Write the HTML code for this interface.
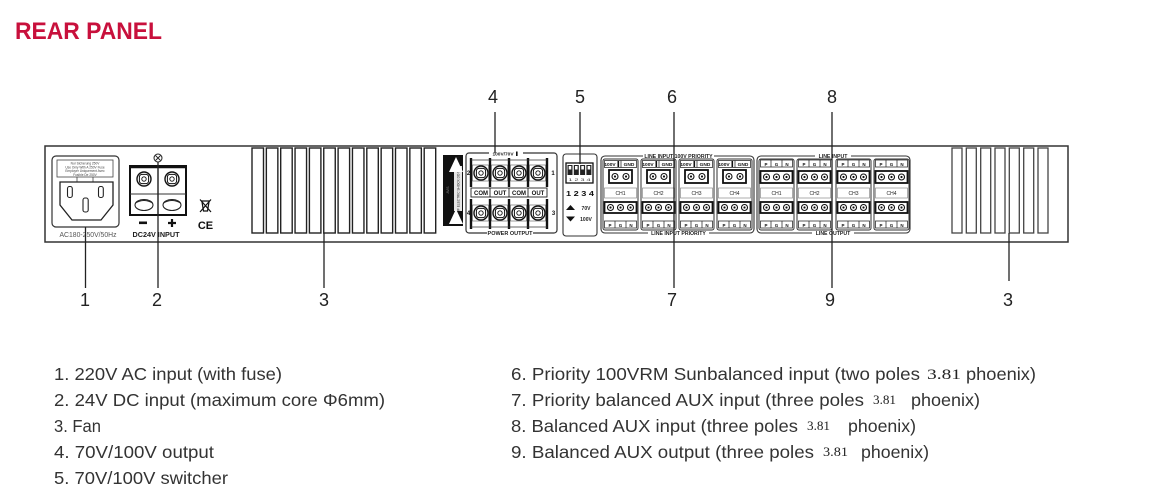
<!DOCTYPE html>
<html><head><meta charset="utf-8">
<style>
html,body{margin:0;padding:0;background:#fff;}
svg{display:block;}
</style></head><body>
<svg width="1163" height="503" viewBox="0 0 1163 503" xmlns="http://www.w3.org/2000/svg" font-family="'Liberation Sans', Arial, sans-serif">
<defs>
  <g id="scr">
    <circle r="7" fill="#fff" stroke="#111" stroke-width="1.4"/>
    <rect x="-4.6" y="-4.6" width="9.2" height="9.2" rx="2.6" fill="none" stroke="#111" stroke-width="1"/>
    <circle r="2.2" fill="none" stroke="#111" stroke-width="0.9"/>
  </g>
  <g id="pin">
    <circle r="3" fill="#fff" stroke="#111" stroke-width="1.1"/>
    <circle r="1.1" fill="#111"/>
  </g>
  <g id="chA">
    <rect x="0" y="159" width="35" height="71" rx="2" fill="none" stroke="#333" stroke-width="1"/>
    <rect x="1.5" y="160.5" width="32" height="7" fill="none" stroke="#333" stroke-width="0.8"/>
    <line x1="18" y1="160.5" x2="18" y2="167.5" stroke="#333" stroke-width="0.8"/>
    <rect x="14.5" y="161" width="1.6" height="6" fill="#111"/>
    <rect x="6" y="170" width="23" height="13" fill="#fff" stroke="#111" stroke-width="1.8"/>
    <use href="#pin" x="12" y="176.5"/>
    <use href="#pin" x="23" y="176.5"/>
    <rect x="1.5" y="188" width="32" height="10" fill="none" stroke="#777" stroke-width="0.6"/>
    <rect x="1.5" y="202" width="32" height="11" fill="#fff" stroke="#111" stroke-width="1.8"/>
    <use href="#pin" x="7.5" y="207.5"/>
    <use href="#pin" x="17.5" y="207.5"/>
    <use href="#pin" x="27.5" y="207.5"/>
    <rect x="1.5" y="221" width="32" height="7" fill="none" stroke="#333" stroke-width="0.8"/>
    <line x1="12" y1="221" x2="12" y2="228" stroke="#333" stroke-width="0.8"/>
    <line x1="23" y1="221" x2="23" y2="228" stroke="#333" stroke-width="0.8"/>
  </g>
  <g id="chB">
    <rect x="0" y="159" width="35" height="71" rx="2" fill="none" stroke="#333" stroke-width="1"/>
    <rect x="1.5" y="160" width="32" height="7" fill="none" stroke="#333" stroke-width="0.8"/>
    <line x1="12" y1="160" x2="12" y2="167" stroke="#333" stroke-width="0.8"/>
    <line x1="23" y1="160" x2="23" y2="167" stroke="#333" stroke-width="0.8"/>
    <rect x="1.5" y="171" width="32" height="12" fill="#fff" stroke="#111" stroke-width="1.8"/>
    <use href="#pin" x="7.5" y="177"/>
    <use href="#pin" x="17.5" y="177"/>
    <use href="#pin" x="27.5" y="177"/>
    <rect x="1.5" y="188" width="32" height="10" fill="none" stroke="#777" stroke-width="0.6"/>
    <rect x="1.5" y="202" width="32" height="11" fill="#fff" stroke="#111" stroke-width="1.8"/>
    <use href="#pin" x="7.5" y="207.5"/>
    <use href="#pin" x="17.5" y="207.5"/>
    <use href="#pin" x="27.5" y="207.5"/>
    <rect x="1.5" y="221" width="32" height="7" fill="none" stroke="#333" stroke-width="0.8"/>
    <line x1="12" y1="221" x2="12" y2="228" stroke="#333" stroke-width="0.8"/>
    <line x1="23" y1="221" x2="23" y2="228" stroke="#333" stroke-width="0.8"/>
  </g>
</defs>

<!-- Title -->
<text x="15" y="39" font-size="24" font-weight="bold" fill="#c8103c" textLength="147" lengthAdjust="spacingAndGlyphs">REAR PANEL</text>

<!-- Panel -->
<rect x="45" y="146" width="1023" height="96" fill="none" stroke="#333" stroke-width="1.5"/>

<!-- AC inlet -->
<rect x="52" y="156" width="67" height="71" rx="4" fill="none" stroke="#333" stroke-width="1.2"/>
<rect x="57" y="160" width="56" height="17" fill="none" stroke="#444" stroke-width="0.8"/>
<g font-size="3.2" fill="#444" text-anchor="middle">
  <text x="85" y="164.5">Nur Sicherung 250V</text>
  <text x="85" y="168.3">Use Only With A 250V Fuse</text>
  <text x="85" y="172.1">Employer Uniquement Avec</text>
  <text x="85" y="175.9">Fusible De 250V</text>
</g>
<path d="M77 177 V182 M93 177 V182" stroke="#444" stroke-width="0.8"/>
<path d="M60 182 H113 V205 L101 220 H72 L60 205 Z" fill="none" stroke="#222" stroke-width="1.3"/>
<rect x="67.5" y="186.5" width="4.8" height="11" rx="2" fill="none" stroke="#222" stroke-width="1.1"/>
<rect x="98.5" y="186.5" width="4.8" height="11" rx="2" fill="none" stroke="#222" stroke-width="1.1"/>
<rect x="83" y="198" width="5.2" height="14" rx="2" fill="none" stroke="#222" stroke-width="1.1"/>
<text x="88" y="237" font-size="7" fill="#555" text-anchor="middle" textLength="57" lengthAdjust="spacingAndGlyphs">AC180-250V/50Hz</text>

<!-- DC terminal -->
<g transform="translate(158,158)">
  <circle r="4" fill="#fff" stroke="#222" stroke-width="1"/>
  <path d="M-2.5 -2.5 L2.5 2.5 M2.5 -2.5 L-2.5 2.5" stroke="#222" stroke-width="0.9"/>
</g>
<rect x="130" y="166" width="56" height="49" fill="#fff" stroke="#111" stroke-width="2"/>
<line x1="130" y1="167" x2="186" y2="167" stroke="#111" stroke-width="2.5"/>
<line x1="130" y1="194" x2="186" y2="194" stroke="#333" stroke-width="1"/>
<line x1="158" y1="166" x2="158" y2="215" stroke="#222" stroke-width="1.2"/>
<use href="#scr" x="144" y="179"/>
<use href="#scr" x="172" y="179"/>
<ellipse cx="144" cy="205" rx="9" ry="5.5" fill="none" stroke="#222" stroke-width="1.1"/>
<ellipse cx="172" cy="205" rx="9" ry="5.5" fill="none" stroke="#222" stroke-width="1.1"/>
<path d="M135.5 203 Q144 198 152.5 203 M163.5 203 Q172 198 180.5 203" fill="none" stroke="#222" stroke-width="0.9"/>
<rect x="139" y="221.5" width="8" height="2.6" fill="#111"/>
<path d="M172 219 V227 M168 223 H176" stroke="#111" stroke-width="2.2"/>
<text x="156" y="237" font-size="7" font-weight="bold" fill="#222" text-anchor="middle" textLength="47" lengthAdjust="spacingAndGlyphs">DC24V INPUT</text>

<!-- WEEE + CE -->
<g stroke="#111" stroke-width="1.2" fill="none">
  <path d="M201 201 H210 M202 202 L203.5 211 H207.5 L209 202"/>
  <path d="M200 199.5 L211 212 M211 199.5 L200 212"/>
</g>
<text x="205.5" y="229" font-size="11" font-weight="bold" fill="#111" text-anchor="middle">CE</text>

<!-- Left fan slots -->
<g fill="none" stroke="#222" stroke-width="1.4">
  <rect x="252" y="148" width="11.5" height="85"/>
  <rect x="266.35" y="148" width="11.5" height="85"/>
  <rect x="280.7" y="148" width="11.5" height="85"/>
  <rect x="295.05" y="148" width="11.5" height="85"/>
  <rect x="309.4" y="148" width="11.5" height="85"/>
  <rect x="323.75" y="148" width="11.5" height="85"/>
  <rect x="338.1" y="148" width="11.5" height="85"/>
  <rect x="352.45" y="148" width="11.5" height="85"/>
  <rect x="366.8" y="148" width="11.5" height="85"/>
  <rect x="381.15" y="148" width="11.5" height="85"/>
  <rect x="395.5" y="148" width="11.5" height="85"/>
  <rect x="409.85" y="148" width="11.5" height="85"/>
  <rect x="424.2" y="148" width="11.5" height="85"/>
</g>

<!-- Right fan slots -->
<g fill="none" stroke="#444" stroke-width="1.3">
  <rect x="952" y="148" width="10" height="85"/>
  <rect x="966.3" y="148" width="10" height="85"/>
  <rect x="980.7" y="148" width="10" height="85"/>
  <rect x="995" y="148" width="10" height="85"/>
  <rect x="1009.3" y="148" width="10" height="85"/>
  <rect x="1023.7" y="148" width="10" height="85"/>
  <rect x="1038" y="148" width="10" height="85"/>
</g>

<!-- Warning strip -->
<rect x="443" y="155" width="20" height="71" fill="#111"/>
<rect x="454" y="166" width="8" height="45" fill="#e6e6e6"/>
<text transform="translate(459.5,188.5) rotate(-90)" font-size="3.2" fill="#222" text-anchor="middle">RISK OF ELECTRIC SHOCK DO NOT OPEN</text>
<polygon points="456,157 449,172 463,172" fill="#fff"/>
<polygon points="456,209 449,224 463,224" fill="#fff"/>
<text transform="translate(449,190) rotate(-90)" font-size="3.2" fill="#888" text-anchor="middle">AVIS</text>

<!-- Power output terminal block -->
<rect x="466" y="153" width="91" height="80" rx="3" fill="none" stroke="#333" stroke-width="1.2"/>
<rect x="489" y="151" width="34" height="5" fill="#fff"/>
<text x="503" y="155.5" font-size="4.8" font-weight="bold" fill="#222" text-anchor="middle">100V/70V</text>
<rect x="516" y="151.5" width="1.6" height="4.5" fill="#111"/>
<rect x="487" y="230" width="46" height="6" fill="#fff"/>
<text x="510" y="235" font-size="5.5" font-weight="bold" fill="#222" text-anchor="middle">POWER OUTPUT</text>
<g stroke="#111" stroke-width="2.4">
  <line x1="471" y1="158" x2="471" y2="187"/><line x1="490" y1="158" x2="490" y2="187"/>
  <line x1="509" y1="158" x2="509" y2="187"/><line x1="528" y1="158" x2="528" y2="187"/>
  <line x1="547" y1="158" x2="547" y2="187"/>
  <line x1="471" y1="199" x2="471" y2="229"/><line x1="490" y1="199" x2="490" y2="229"/>
  <line x1="509" y1="199" x2="509" y2="229"/><line x1="528" y1="199" x2="528" y2="229"/>
  <line x1="547" y1="199" x2="547" y2="229"/>
</g>
<line x1="471" y1="160" x2="547" y2="160" stroke="#333" stroke-width="0.8"/>
<line x1="471" y1="227" x2="547" y2="227" stroke="#333" stroke-width="0.8"/>
<g fill="none" stroke="#555" stroke-width="0.6">
  <rect x="472.5" y="165" width="16" height="16"/><rect x="491.5" y="165" width="16" height="16"/>
  <rect x="510.5" y="165" width="16" height="16"/><rect x="529.5" y="165" width="16" height="16"/>
  <rect x="472.5" y="205" width="16" height="16"/><rect x="491.5" y="205" width="16" height="16"/>
  <rect x="510.5" y="205" width="16" height="16"/><rect x="529.5" y="205" width="16" height="16"/>
</g>
<use href="#scr" x="481" y="173"/><use href="#scr" x="500" y="173"/>
<use href="#scr" x="519" y="173"/><use href="#scr" x="538" y="173"/>
<use href="#scr" x="481" y="213"/><use href="#scr" x="500" y="213"/>
<use href="#scr" x="519" y="213"/><use href="#scr" x="538" y="213"/>
<rect x="471" y="188" width="76" height="9" fill="#fff" stroke="#222" stroke-width="0.9"/>
<g stroke="#222" stroke-width="0.9">
  <line x1="490" y1="188" x2="490" y2="197"/><line x1="509" y1="188" x2="509" y2="197"/>
  <line x1="528" y1="188" x2="528" y2="197"/>
</g>
<g font-size="6" font-weight="bold" fill="#111" text-anchor="middle">
  <text x="481" y="195">COM</text><text x="500" y="195">OUT</text>
  <text x="519" y="195">COM</text><text x="538" y="195">OUT</text>
</g>
<g font-size="6" font-weight="bold" fill="#111" text-anchor="middle">
  <text x="468.5" y="175">2</text><text x="553" y="175">1</text>
  <text x="468.5" y="215">4</text><text x="553.5" y="215">3</text>
</g>

<!-- DIP switch -->
<rect x="563" y="154" width="34" height="82" rx="3" fill="none" stroke="#333" stroke-width="1.1"/>
<rect x="566" y="163" width="27" height="20" fill="#fff" stroke="#111" stroke-width="1.3"/>
<g fill="#222">
  <rect x="567.5" y="165" width="5" height="10"/><rect x="573.8" y="165" width="5" height="10"/>
  <rect x="580.1" y="165" width="5" height="10"/><rect x="586.4" y="165" width="5" height="10"/>
</g>
<g fill="#fff">
  <rect x="568.7" y="166" width="2.6" height="3.5"/><rect x="575" y="166" width="2.6" height="3.5"/>
  <rect x="581.3" y="166" width="2.6" height="3.5"/><rect x="587.6" y="166" width="2.6" height="3.5"/>
</g>
<text x="579.5" y="181" font-size="4" fill="#333" text-anchor="middle" textLength="22" lengthAdjust="spacingAndGlyphs">1 2 3 4</text>
<text x="580" y="196" font-size="7.5" font-weight="bold" fill="#111" text-anchor="middle" textLength="28" lengthAdjust="spacingAndGlyphs">1 2 3 4</text>
<polygon points="566,210 575,210 570.5,205" fill="#111"/>
<polygon points="566,216.5 575,216.5 570.5,221.5" fill="#111"/>
<text x="586" y="210" font-size="5" font-weight="bold" fill="#222" text-anchor="middle">70V</text>
<text x="586" y="221" font-size="5" font-weight="bold" fill="#222" text-anchor="middle">100V</text>

<!-- Line input 100V priority group -->
<rect x="601" y="156" width="153" height="77" rx="4" fill="none" stroke="#333" stroke-width="1.1"/>
<rect x="643" y="153" width="71" height="6" fill="#fff"/>
<text x="678.5" y="158" font-size="5.2" font-weight="bold" fill="#222" text-anchor="middle">LINE INPUT 100V PRIORITY</text>
<rect x="648" y="230" width="61" height="6" fill="#fff"/>
<text x="678.5" y="235" font-size="5.2" font-weight="bold" fill="#222" text-anchor="middle">LINE INPUT PRIORITY</text>
<use href="#chA" x="603" y="0"/>
<use href="#chA" x="641" y="0"/>
<use href="#chA" x="679" y="0"/>
<use href="#chA" x="717" y="0"/>
<g font-size="4.8" font-weight="bold" fill="#111" text-anchor="middle">
  <text x="610" y="166">100V</text><text x="629" y="166">GND</text>
  <text x="648" y="166">100V</text><text x="667" y="166">GND</text>
  <text x="686" y="166">100V</text><text x="705" y="166">GND</text>
  <text x="724" y="166">100V</text><text x="743" y="166">GND</text>
</g>
<g font-size="5" fill="#222" text-anchor="middle">
  <text x="620.5" y="195">CH1</text><text x="658.5" y="195">CH2</text>
  <text x="696.5" y="195">CH3</text><text x="734.5" y="195">CH4</text>
</g>
<g font-size="4.5" font-weight="bold" fill="#111" text-anchor="middle">
  <text x="610" y="227">P</text><text x="620.5" y="227">G</text><text x="631" y="227">N</text>
  <text x="648" y="227">P</text><text x="658.5" y="227">G</text><text x="669" y="227">N</text>
  <text x="686" y="227">P</text><text x="696.5" y="227">G</text><text x="707" y="227">N</text>
  <text x="724" y="227">P</text><text x="734.5" y="227">G</text><text x="745" y="227">N</text>
</g>

<!-- Line input / output group -->
<rect x="757" y="156" width="153" height="77" rx="4" fill="none" stroke="#333" stroke-width="1.1"/>
<rect x="815" y="153" width="36" height="6" fill="#fff"/>
<text x="833" y="158" font-size="5.2" font-weight="bold" fill="#222" text-anchor="middle">LINE INPUT</text>
<rect x="812" y="230" width="42" height="6" fill="#fff"/>
<text x="833" y="235" font-size="5.2" font-weight="bold" fill="#222" text-anchor="middle">LINE OUTPUT</text>
<use href="#chB" x="759" y="0"/>
<use href="#chB" x="797" y="0"/>
<use href="#chB" x="836" y="0"/>
<use href="#chB" x="874" y="0"/>
<g font-size="4.5" font-weight="bold" fill="#111" text-anchor="middle">
  <text x="766" y="166">P</text><text x="776.5" y="166">G</text><text x="787" y="166">N</text>
  <text x="804" y="166">P</text><text x="814.5" y="166">G</text><text x="825" y="166">N</text>
  <text x="843" y="166">P</text><text x="853.5" y="166">G</text><text x="864" y="166">N</text>
  <text x="881" y="166">P</text><text x="891.5" y="166">G</text><text x="902" y="166">N</text>
  <text x="766" y="227">P</text><text x="776.5" y="227">G</text><text x="787" y="227">N</text>
  <text x="804" y="227">P</text><text x="814.5" y="227">G</text><text x="825" y="227">N</text>
  <text x="843" y="227">P</text><text x="853.5" y="227">G</text><text x="864" y="227">N</text>
  <text x="881" y="227">P</text><text x="891.5" y="227">G</text><text x="902" y="227">N</text>
</g>
<g font-size="5" fill="#222" text-anchor="middle">
  <text x="776.5" y="195">CH1</text><text x="814.5" y="195">CH2</text>
  <text x="853.5" y="195">CH3</text><text x="891.5" y="195">CH4</text>
</g>

<!-- Leader lines -->
<g stroke="#222" stroke-width="1.3">
  <line x1="85.5" y1="227" x2="85.5" y2="288"/>
  <line x1="158" y1="162" x2="158" y2="288"/>
  <line x1="324" y1="233" x2="324" y2="288"/>
  <line x1="1009" y1="233" x2="1009" y2="281"/>
  <line x1="495" y1="112" x2="495" y2="153"/>
  <line x1="580" y1="112" x2="580" y2="164"/>
  <line x1="674" y1="112" x2="674" y2="288"/>
  <line x1="832" y1="112" x2="832" y2="288"/>
</g>

<!-- Callout numbers -->
<g font-size="18" fill="#222" text-anchor="middle">
  <text x="493" y="103">4</text>
  <text x="580" y="103">5</text>
  <text x="672" y="103">6</text>
  <text x="832" y="103">8</text>
  <text x="85" y="306">1</text>
  <text x="157" y="306">2</text>
  <text x="324" y="306">3</text>
  <text x="672" y="306">7</text>
  <text x="830" y="306">9</text>
  <text x="1008" y="306">3</text>
</g>

<!-- Legend left column -->
<g font-size="17.5" fill="#333">
  <text x="54" y="380" textLength="228" lengthAdjust="spacingAndGlyphs">1. 220V AC input (with fuse)</text>
  <text x="54" y="406" textLength="331" lengthAdjust="spacingAndGlyphs">2. 24V DC input (maximum core Φ6mm)</text>
  <text x="54" y="432" textLength="47" lengthAdjust="spacingAndGlyphs">3. Fan</text>
  <text x="54" y="458" textLength="160" lengthAdjust="spacingAndGlyphs">4. 70V/100V output</text>
  <text x="54" y="484" textLength="174" lengthAdjust="spacingAndGlyphs">5. 70V/100V switcher</text>
</g>

<!-- Legend right column -->
<g font-size="17.5" fill="#333">
  <text x="511" y="380" textLength="409" lengthAdjust="spacingAndGlyphs">6. Priority 100VRM Sunbalanced input (two poles</text>
  <text x="966" y="380" textLength="70" lengthAdjust="spacingAndGlyphs">phoenix)</text>
  <text x="511" y="406" textLength="353" lengthAdjust="spacingAndGlyphs">7. Priority balanced AUX input (three poles</text>
  <text x="911" y="406" textLength="69" lengthAdjust="spacingAndGlyphs">phoenix)</text>
  <text x="511" y="432" textLength="287" lengthAdjust="spacingAndGlyphs">8. Balanced AUX input (three poles</text>
  <text x="848" y="432" textLength="68" lengthAdjust="spacingAndGlyphs">phoenix)</text>
  <text x="511" y="458" textLength="303" lengthAdjust="spacingAndGlyphs">9. Balanced AUX output (three poles</text>
  <text x="861" y="458" textLength="68" lengthAdjust="spacingAndGlyphs">phoenix)</text>
</g>
<g font-family="'Liberation Serif', 'Times New Roman', serif" fill="#222">
  <text x="927" y="379" font-size="15" textLength="34" lengthAdjust="spacingAndGlyphs">3.81</text>
  <text x="873" y="404" font-size="12.5" textLength="23" lengthAdjust="spacingAndGlyphs">3.81</text>
  <text x="807" y="430" font-size="12.5" textLength="23" lengthAdjust="spacingAndGlyphs">3.81</text>
  <text x="823" y="456" font-size="12.5" textLength="25" lengthAdjust="spacingAndGlyphs">3.81</text>
</g>
</svg>
</body></html>
